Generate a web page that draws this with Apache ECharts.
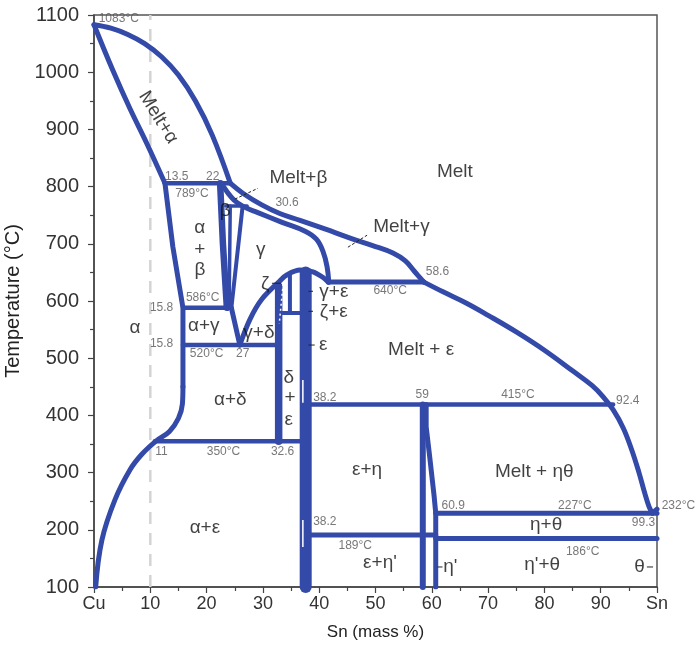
<!DOCTYPE html>
<html>
<head>
<meta charset="utf-8">
<script src="https://cdn.jsdelivr.net/npm/echarts@6/dist/echarts.min.js"></script>
<style>
  html, body { margin: 0; padding: 0; background: #fff; }
  #chart { width: 695px; height: 650px; }
</style>
</head>
<body>
<div id="chart"></div>
<script>
// Cu-Sn phase diagram, points are [Sn mass %, temperature °C]
const liquidusCu = [[0, 1083], [3, 1077], [6, 1066], [9, 1050], [12, 1027], [15, 995], [18, 950],
  [21, 890], [24.2, 806]];
const liquidusGamma = [[24.2, 806], [26.5, 788], [29.8, 768], [33, 753], [36.6, 741], [41, 726], [45.5, 710],
  [49.5, 697], [53.1, 684], [55.3, 670], [56.9, 652], [58.6, 633]];
const liquidusEps = [[58.6, 633], [62, 616], [66, 597], [70, 575], [75, 546], [80, 514], [85, 478],
  [88.5, 452], [90.4, 433], [92.2, 410], [94, 378], [95.5, 340], [96.8, 300], [97.8, 265], [98.6, 240], [99.2, 229]];
const liquidusHook = [[99.2, 229], [100, 236]];
const solidusAlpha = [[0, 1083], [3.4, 1002], [6.4, 936], [9.4, 875], [12.6, 806]];
const solvusAlphaUpper = [[12.6, 806], [14, 695], [15.8, 588], [15.8, 450]];
const solvusAlphaLower = [[15.8, 450], [15.7, 420], [15, 395], [13.4, 372], [11, 355], [8.5, 332], [6.4, 305],
  [3.7, 252], [1.4, 182], [0.3, 100]];
const line798 = [[12.6, 806], [24.2, 806]];
const line586 = [[15.8, 588], [24.4, 588]];
const line520 = [[15.8, 523], [32.8, 523]];
const line350 = [[10.8, 355], [37, 355]];
const betaA = [[22.4, 806], [22.9, 700], [23.6, 588]];
const betaB = [[24.2, 766], [24.0, 588]];
const betaC = [[26.4, 766], [24.4, 588]];
const line755 = [[23.4, 766], [27.2, 766]];
const solidusGamma = [[22.6, 806], [24.9, 776], [27, 763], [29, 755], [33.3, 738], [37.5, 722], [39.5, 708],
  [40.7, 686], [41.4, 660], [41.7, 633]];
const gammaLeft = [[24.4, 588], [25.9, 523]];
const gammaDome = [[25.9, 523], [27.7, 568], [29.8, 603], [33, 635], [34.3, 646], [36.6, 654], [38.9, 651],
  [40.7, 641], [41.6, 633]];
const line640 = [[41.6, 633], [58.6, 633]];
const deltaLine = [[32.8, 626], [32.8, 355]];
const zetaLine = [[34.8, 648], [34.8, 579]];
const line580 = [[32.8, 579], [37, 579]];
const epsBand = [[37.6, 650], [37.6, 100]];
const line415 = [[38.2, 419], [92.2, 419]];
const etaLeft = [[58.4, 419], [58.4, 100]];
const etaRight = [[59, 419], [59, 380], [59.6, 330], [60.4, 260], [60.7, 229], [60.7, 100]];
const line227 = [[60.7, 229], [100, 229]];
const line189 = [[38.2, 191], [60.7, 191]];
const line186 = [[60.7, 185], [100, 185]];
const guide10 = [[10, 100], [10, 1100]];

const whiteMarks = [
  [[37.1, 462], [37.1, 422]],
  [[37.1, 217], [37.1, 170]]
];
const whiteDots = [[33.6, 630], [32.9, 560]];

const leadersDashed = [
  [[25, 778], [29.1, 797]],
  [[45.1, 694], [48.5, 715]]
];
const leadersSolid = [
  [[31.6, 631], [33.2, 631]],
  [[38.1, 617], [38.9, 617]],
  [[38.1, 582], [38.9, 582]],
  [[38.1, 523], [39.2, 523]],
  [[61.0, 135], [61.9, 135]],
  [[98.2, 135], [99.3, 135]]
];

const phaseLabels = [
  ['Melt', 64.1, 826], ['Melt+β', 36.3, 815], ['Melt+γ', 54.6, 729],
  ['α', 18.8, 728], ['+', 18.8, 690], ['β', 18.8, 654],
  ['β', 23.3, 758], ['γ', 29.6, 690], ['α', 7.3, 553], ['α+γ', 19.5, 556],
  ['γ+δ', 29.3, 544], ['ζ', 30.4, 631], ['γ+ε', 42.6, 617], ['ζ+ε', 42.6, 582],
  ['ε', 40.7, 523], ['Melt + ε', 58.1, 514],
  ['δ', 34.6, 465], ['+', 34.8, 430], ['ε', 34.6, 392],
  ['α+δ', 24.2, 427], ['ε+η', 48.5, 305], ['Melt + ηθ', 78.2, 301],
  ['α+ε', 19.7, 203], ['η+θ', 80.3, 208], ["ε+η'", 50.8, 142],
  ["η'", 63.3, 135], ["η'+θ", 79.6, 138], ['θ', 96.9, 135]
];
const meltAlpha = ['Melt+α', 11.4, 921];

const pointLabels = [
  ['1083°C', 4.4, 1094], ['13.5', 14.7, 817], ['22', 21.1, 817], ['789°C', 17.4, 788],
  ['30.6', 34.3, 772], ['58.6', 61.0, 652], ['640°C', 52.6, 618],
  ['15.8', 12.0, 589], ['586°C', 19.3, 605], ['15.8', 12.0, 525], ['520°C', 20, 508], ['27', 26.4, 508],
  ['11', 12, 336], ['350°C', 23, 336], ['32.6', 33.5, 336],
  ['38.2', 41.0, 431], ['59', 58.3, 437], ['415°C', 75.3, 437], ['92.4', 94.8, 425],
  ['38.2', 41.0, 214], ['189°C', 46.4, 173], ['60.9', 63.8, 243], ['227°C', 85.4, 243],
  ['232°C', 103.8, 243], ['99.3', 97.6, 212], ['186°C', 86.8, 162]
];

const blue = '#344aa8';
const font = 'Arial, "Liberation Sans", sans-serif';

function boundary(points, width, smooth) {
  return {
    type: 'line',
    data: points,
    showSymbol: false,
    smooth: smooth || false,
    silent: true,
    z: 3,
    lineStyle: { color: blue, width: width || 5, cap: 'round', join: 'round' }
  };
}

function thinLine(points, color, width, type, z) {
  return {
    type: 'line',
    data: points,
    showSymbol: false,
    silent: true,
    z: z,
    lineStyle: { color: color, width: width, type: type }
  };
}

let series = [
  thinLine(guide10, '#d4d4d4', 2.5, [12, 9], 1),
  boundary(liquidusCu, 5, 0.4),
  boundary(liquidusGamma, 5, 0.4),
  boundary(liquidusEps, 5, 0.4),
  boundary(liquidusHook, 5),
  boundary(solidusAlpha, 5, 0.4),
  boundary(solvusAlphaUpper, 5),
  boundary(solvusAlphaLower, 5, 0.4),
  boundary(line798, 4.5),
  boundary(line586, 4.5),
  boundary(line520, 4.5),
  boundary(line350, 4.5),
  boundary(betaA, 6.5),
  boundary(betaB, 3.5),
  boundary(betaC, 4),
  boundary(line755, 3.5),
  boundary(solidusGamma, 5, 0.4),
  boundary(gammaLeft, 5),
  boundary(gammaDome, 5, 0.35),
  boundary(line640, 5),
  boundary(deltaLine, 7.5),
  boundary(zetaLine, 4),
  boundary(line580, 4),
  boundary(epsBand, 12),
  boundary(line415, 4.5),
  boundary(etaLeft, 6),
  boundary(etaRight, 5),
  boundary(line227, 5),
  boundary(line189, 5),
  boundary(line186, 5),
  thinLine(whiteDots, '#ffffff', 1.5, [2, 3], 4)
];
whiteMarks.forEach(function (seg) { series.push(thinLine(seg, '#ffffff', 1.5, 'solid', 4)); });
leadersDashed.forEach(function (seg) { series.push(thinLine(seg, '#222', 1, [3, 2], 5)); });
leadersSolid.forEach(function (seg) { series.push(thinLine(seg, '#222', 1, 'solid', 5)); });

// phase names
series.push({
  type: 'scatter',
  symbolSize: 0,
  silent: true,
  clip: false,
  z: 6,
  data: phaseLabels.map(function (d) { return { name: d[0], value: [d[1], d[2]] }; }).concat([{
    name: meltAlpha[0], value: [meltAlpha[1], meltAlpha[2]], label: { rotate: -58 }
  }]),
  label: {
    show: true, position: 'inside', formatter: function (p) { return p.name; },
    color: '#111', fontSize: 19, fontFamily: font
  }
});
// point values
series.push({
  type: 'scatter',
  symbolSize: 0,
  silent: true,
  clip: false,
  z: 6,
  data: pointLabels.map(function (d) { return { name: d[0], value: [d[1], d[2]] }; }),
  label: {
    show: true, position: 'inside', formatter: function (p) { return p.name; },
    color: '#555', fontSize: 12, fontFamily: font
  }
});

let chart = echarts.init(document.getElementById('chart'));
chart.setOption({
  animation: false,
  backgroundColor: '#fff',
  grid: {
    left: 94, right: 38, top: 15, bottom: 63, containLabel: false, outerBoundsMode: 'none',
    show: true, borderColor: '#555', borderWidth: 1.5
  },
  xAxis: {
    type: 'value', min: 0, max: 100, interval: 10,
    name: 'Sn (mass %)', nameLocation: 'middle', nameGap: 37,
    nameTextStyle: { fontSize: 17, color: '#222', fontFamily: font },
    axisLine: { lineStyle: { color: '#444', width: 1.5 } },
    axisTick: { length: 6, lineStyle: { color: '#444', width: 1.2 } },
    minorTick: { show: true, splitNumber: 2, length: 4, lineStyle: { color: '#444', width: 1.2 } },
    splitLine: { show: false },
    axisLabel: {
      fontSize: 18, color: '#333', fontFamily: font, margin: 8,
      formatter: function (v) { return v === 0 ? 'Cu' : (v === 100 ? 'Sn' : String(v)); }
    }
  },
  yAxis: {
    type: 'value', min: 100, max: 1100, interval: 100,
    name: 'Temperature (°C)', nameLocation: 'middle', nameGap: 50,
    nameTextStyle: { fontSize: 20, color: '#222', fontFamily: font },
    axisLine: { show: true, lineStyle: { color: '#444', width: 1.5 } },
    axisTick: { show: true, length: 6, lineStyle: { color: '#444', width: 1.2 } },
    minorTick: { show: true, splitNumber: 2, length: 4, lineStyle: { color: '#444', width: 1.2 } },
    splitLine: { show: false },
    axisLabel: {
      fontSize: 20, color: '#333', fontFamily: font, margin: 15,
      formatter: function (v) { return String(v); }
    }
  },
  series: series
});
</script>
</body>
</html>
